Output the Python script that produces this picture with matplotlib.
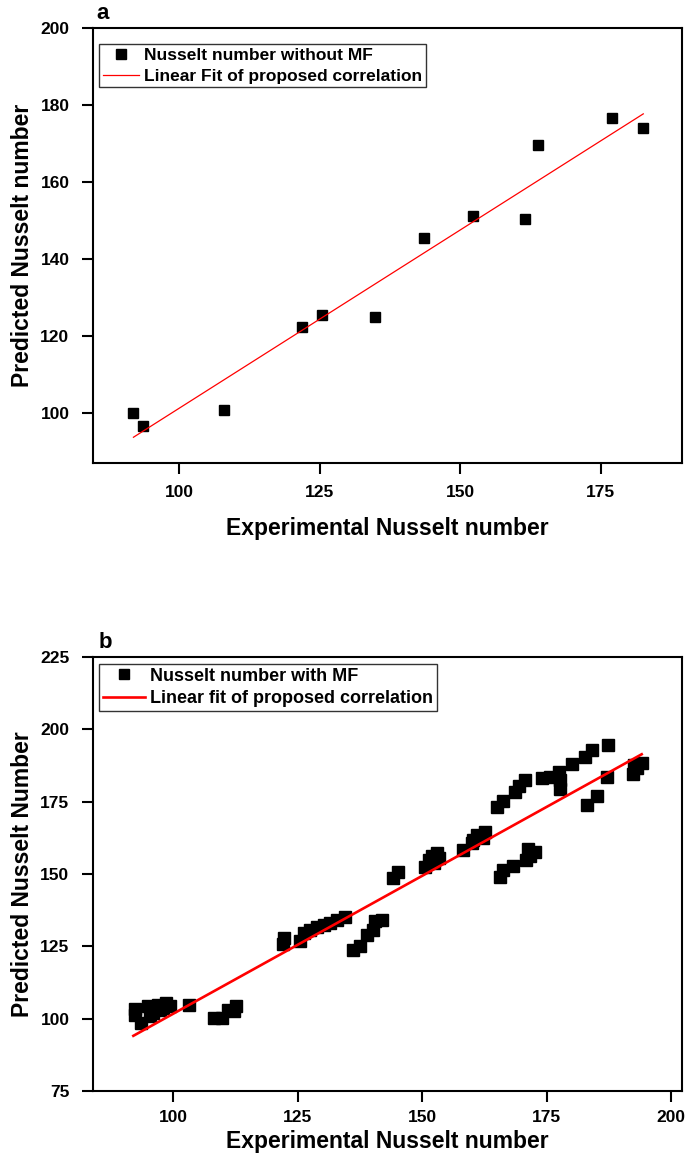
import numpy as np
import matplotlib
matplotlib.use("Agg")
import matplotlib.pyplot as plt

# (a) Nusselt number without magnetic field
exp_a = [91.8, 93.5, 107.9, 121.9, 125.3, 134.8, 143.6, 152.3, 161.5, 163.8, 177.1, 182.6]
pred_a = [100.0, 96.5, 100.8, 122.4, 125.3, 124.8, 145.3, 151.1, 150.3, 169.5, 176.7, 174.0]
fit_a = (0.926, 8.6)          # slope, intercept of the proposed correlation
fit_a_range = (91.8, 182.6)

# (b) Nusselt number with magnetic field
exp_b = [92.3, 92.3, 93.6, 95.0, 95.4, 96.0, 97.0, 97.4, 98.05, 98.6, 99.3,
         103.1, 108.1, 109.8, 111.1, 112.2, 112.65,
         122.3, 122.1, 125.5, 126.2, 127.5, 128.9, 130.2, 131.5, 132.9, 134.5,
         136.2, 137.5, 138.9, 140.2, 140.6, 141.9, 144.2, 145.2,
         150.6, 151.3, 151.9, 152.9, 153.3, 152.3,
         158.3, 160.0, 160.3, 161.0, 162.3, 162.65,
         165.0, 166.2, 168.7, 169.5, 170.7,
         165.7, 166.3, 168.2, 170.9, 171.35, 171.7, 172.7,
         174.0, 175.6, 177.4, 177.7, 177.7, 180.1, 182.7, 184.1, 187.4,
         183.2, 185.1, 187.2, 192.4, 193.1, 194.1, 192.6]
pred_b = [103.3, 101.2, 98.5, 104.3, 100.8, 102.0, 104.8, 103.1, 103.7, 105.4, 104.3,
          104.8, 100.2, 100.2, 103.1, 102.8, 104.3,
          127.9, 125.7, 126.7, 129.5, 130.7, 131.8, 132.4, 133.0, 134.1, 135.3,
          123.8, 125.0, 129.0, 130.7, 133.6, 134.1, 148.5, 150.8,
          152.5, 154.8, 156.2, 157.1, 155.4, 153.9,
          158.3, 160.6, 161.7, 163.4, 162.3, 164.6,
          173.2, 175.3, 178.4, 180.3, 182.6,
          148.8, 151.4, 152.8, 154.8, 158.5, 156.2, 157.7,
          183.0, 183.6, 185.3, 182.4, 179.5, 187.9, 190.4, 192.8, 194.7,
          174.0, 176.9, 183.6, 184.7, 186.8, 188.2, 187.5]
fit_b = (0.953, 6.4)
fit_b_range = (92.0, 194.1)

font = ["Liberation Sans", "DejaVu Sans"]
plt.rcParams["font.family"] = font
plt.rcParams["font.weight"] = "bold"

fig = plt.figure(figsize=(6.86, 11.64), dpi=100)
ax_a = fig.add_axes([0.1356, 0.6022, 0.8586, 0.3737])
ax_b = fig.add_axes([0.1356, 0.0627, 0.8586, 0.3729])


def style_axes(ax):
    for s in ax.spines.values():
        s.set_linewidth(1.5)
    ax.tick_params(axis="both", direction="out", length=8, width=1.5,
                   top=False, right=False, labelsize=12.5)
    ax.tick_params(axis="y", pad=9)
    for lab in ax.get_xticklabels() + ax.get_yticklabels():
        lab.set_fontweight("bold")


# panel a
ax_a.plot(exp_a, pred_a, "s", color="black", markersize=7.5, label="Nusselt number without MF")
xa = np.array(fit_a_range)
ax_a.plot(xa, fit_a[0] * xa + fit_a[1], color="red", lw=0.9,
          label="Linear Fit of proposed correlation")
ax_a.set_xlim(84.6, 189.5)
ax_a.set_ylim(86.9, 200)
ax_a.set_xticks([100, 125, 150, 175])
ax_a.set_yticks([100, 120, 140, 160, 180, 200])
ax_a.tick_params(axis="x", pad=8)
style_axes(ax_a)
ax_a.set_xlabel("Experimental Nusselt number", fontweight="bold", fontsize=16.5, labelpad=12)
ax_a.set_ylabel("Predicted Nusselt number", fontweight="bold", fontsize=16.5)
ax_a.yaxis.set_label_coords(-0.100, 0.5)
leg_a = ax_a.legend(loc="upper left", bbox_to_anchor=(0.0102, 0.963), borderaxespad=0,
                    fancybox=False, edgecolor="#333333", framealpha=1,
                    prop={"weight": "bold", "size": 12.5},
                    handlelength=2.1, handletextpad=0.3, borderpad=0.2,
                    labelspacing=0.35)
leg_a.get_frame().set_linewidth(1.0)
ax_a.text(0.005, 1.01, "a", transform=ax_a.transAxes,
          fontweight="bold", fontsize=16, va="bottom", ha="left")

# panel b
ax_b.plot(exp_b, pred_b, "s", color="black", markersize=8, label="Nusselt number with MF")
xb = np.array(fit_b_range)
ax_b.plot(xb, fit_b[0] * xb + fit_b[1], color="red", lw=1.9,
          label="Linear fit of proposed correlation")
ax_b.set_xlim(83.9, 202.2)
ax_b.set_ylim(75, 225)
ax_b.set_xticks([100, 125, 150, 175, 200])
ax_b.set_yticks([75, 100, 125, 150, 175, 200, 225])
ax_b.tick_params(axis="x", pad=6)
style_axes(ax_b)
ax_b.set_xlabel("Experimental Nusselt number", fontweight="bold", fontsize=16.5, labelpad=3)
ax_b.set_ylabel("Predicted Nusselt Number", fontweight="bold", fontsize=16.5)
ax_b.yaxis.set_label_coords(-0.100, 0.5)
leg_b = ax_b.legend(loc="upper left", bbox_to_anchor=(0.0102, 0.984), borderaxespad=0,
                    fancybox=False, edgecolor="#333333", framealpha=1,
                    prop={"weight": "bold", "size": 13},
                    handlelength=2.35, handletextpad=0.3, borderpad=0.2,
                    labelspacing=0.3, markerscale=0.9)
leg_b.get_frame().set_linewidth(1.0)
ax_b.text(0.01, 1.01, "b", transform=ax_b.transAxes,
          fontweight="bold", fontsize=16, va="bottom", ha="left")

fig.savefig("out.png", dpi=100)
